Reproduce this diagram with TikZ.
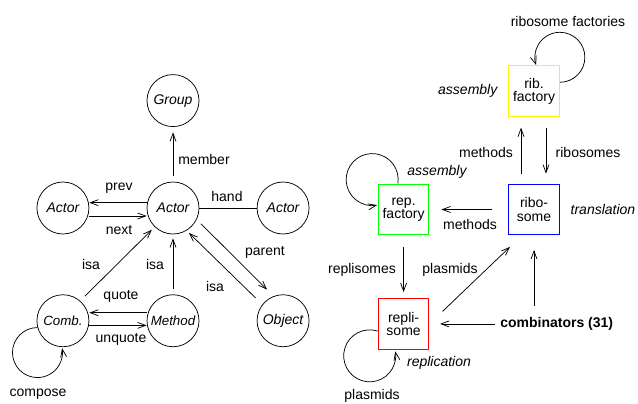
\documentclass[tikz,border=0pt]{standalone}
\usepackage{fontspec}
\setmainfont{Liberation Sans}
\usetikzlibrary{arrows.meta,positioning}

\newcommand\diagsize{\fontsize{10.5}{12}\selectfont}
\newcommand\diagsmall{\fontsize{10}{11}\selectfont}
\newcommand\diagcell{\fontsize{10.5}{10}\selectfont}

\begin{document}
\begin{tikzpicture}[
  x=0.75pt, y=0.75pt,
  font=\diagsize,
  line width=0.55pt,
  entity/.style={circle, draw, minimum size=39pt, inner sep=0pt, font=\diagsize\itshape},
  entitysm/.style={entity, font=\diagsmall\itshape},
  cell/.style={draw, line width=0.8pt, minimum size=38pt, inner sep=1pt, align=center, font=\diagcell},
  role/.style={font=\diagsize\itshape},
  arrow/.style={-{Straight Barb[length=6pt,width=4.5pt]}},
]
\useasboundingbox (0,0) rectangle (638,-403);

% actor model (left)
\node[entity] (actor) at (173,-208) {Actor};
\node[entity, above=41pt of actor] (group) {Group};
\node[entity, left=43pt of actor] (prevactor) {Actor};
\node[entity, right=43pt of actor] (handactor) {Actor};
\node[entitysm, below=45pt of actor] (method) {Method};
\node[entitysm, left=43pt of method] (comb) {Comb.};
\node[entity, right=43pt of method] (object) {Object};

\draw[arrow, shorten <=4pt, shorten >=4pt] (actor) -- (group);
\draw[arrow] ([yshift=4pt]actor.west) -- ([yshift=4pt]prevactor.east);
\draw[arrow] ([yshift=-6pt]prevactor.east) -- ([yshift=-6pt]actor.west);
\draw (actor) -- (handactor);
\draw[arrow, shorten <=4pt, shorten >=3pt] (method) -- (actor);
\draw[arrow, shorten <=5pt, shorten >=3pt] (comb.49) -- (actor.226);
\draw[arrow, shorten <=4.5pt, shorten >=7pt] (actor.-26) -- (object.111);
\draw[arrow, shorten <=7pt, shorten >=2.5pt] (object.142) -- (actor.-59);
\draw[arrow] ([yshift=6pt]method.west) -- ([yshift=6pt]comb.east);
\draw[arrow] ([yshift=-3.5pt]comb.east) -- ([yshift=-3.5pt]method.west);
\draw[arrow] (comb.195) arc[start angle=90, end angle=370, radius=18.75pt];

\node (lmember) at (204,-159) {member};
\node (lprev) at (119,-188) {prev};
\node (lnext) at (119,-230) {next};
\node (lhand) at (227,-196) {hand};
\node (lisacomb) at (91,-264) {isa};
\node (lisameth) at (155,-264) {isa};
\node (lisaobj) at (215,-286) {isa};
\node (lparent) at (265,-252) {parent};
\node (lquote) at (121,-296) {quote};
\node (lunquote) at (121,-339) {unquote};
\node (lcompose) at (38,-394) {compose};

% bootstrap cycle (right)
\node[cell, draw=blue] (ribo) at (534,-209.5) {ribo-\\some};
\node[cell, draw=yellow, above=50pt of ribo] (ribfac) {rib.\\factory};
\node[cell, draw=green, left=59pt of ribo] (repfac) {rep.\\factory};
\node[cell, draw=red, below=47pt of repfac] (repli) {repli-\\some};
\node[font=\diagsize\bfseries, right=49.5pt of repli] (combs) {combinators (31)};

\node[role, left=4.5pt of ribfac] (ribasm) {assembly};
\node[role, right=4.5pt of ribo] (ribtrans) {translation};
\node[role] (repasm) at (437,-172) {assembly};
\node[role] (replic) at (439,-363) {replication};

\draw[arrow, shorten <=7.5pt, shorten >=8pt] ([xshift=-9.75pt]ribo.north) -- ([xshift=-9.75pt]ribfac.south);
\draw[arrow, shorten <=8pt, shorten >=7.5pt] ([xshift=9pt]ribfac.south) -- ([xshift=9pt]ribo.north);
\draw[arrow, shorten <=12pt, shorten >=9pt] (ribo.west) -- (repfac.east);
\draw[arrow, shorten <=9pt, shorten >=4.5pt] (repfac.south) -- (repli.north);
\draw[arrow, shorten <=13.5pt, shorten >=12.5pt] (repli.east) -- ([xshift=-9pt]ribo.south);
\draw[arrow, shorten >=8pt] (combs.west) -- (repli.east);
\draw[arrow, shorten <=5pt, shorten >=11pt] (ribo.south |- combs.north) -- (ribo.south);
\draw[arrow] ([yshift=6.6pt]ribfac.east) arc[start angle=-90, end angle=198, radius=18.75pt];
\draw[arrow] ([xshift=-4.3pt]repfac.north) arc[start angle=-9, end angle=281, radius=19.5pt];
\draw[arrow] ([yshift=-5.4pt]repli.west) arc[start angle=72, end angle=370, radius=19.5pt];

\node (lribfacs) at (568,-21) {ribosome factories};
\node (lmethup) at (486,-152) {methods};
\node (lribos) at (588,-152) {ribosomes};
\node (lmethleft) at (470,-224) {methods};
\node (lreplis) at (362,-270) {replisomes};
\node (lplasup) at (450,-270) {plasmids};
\node (lplasloop) at (372,-396) {plasmids};
\end{tikzpicture}
\end{document}
